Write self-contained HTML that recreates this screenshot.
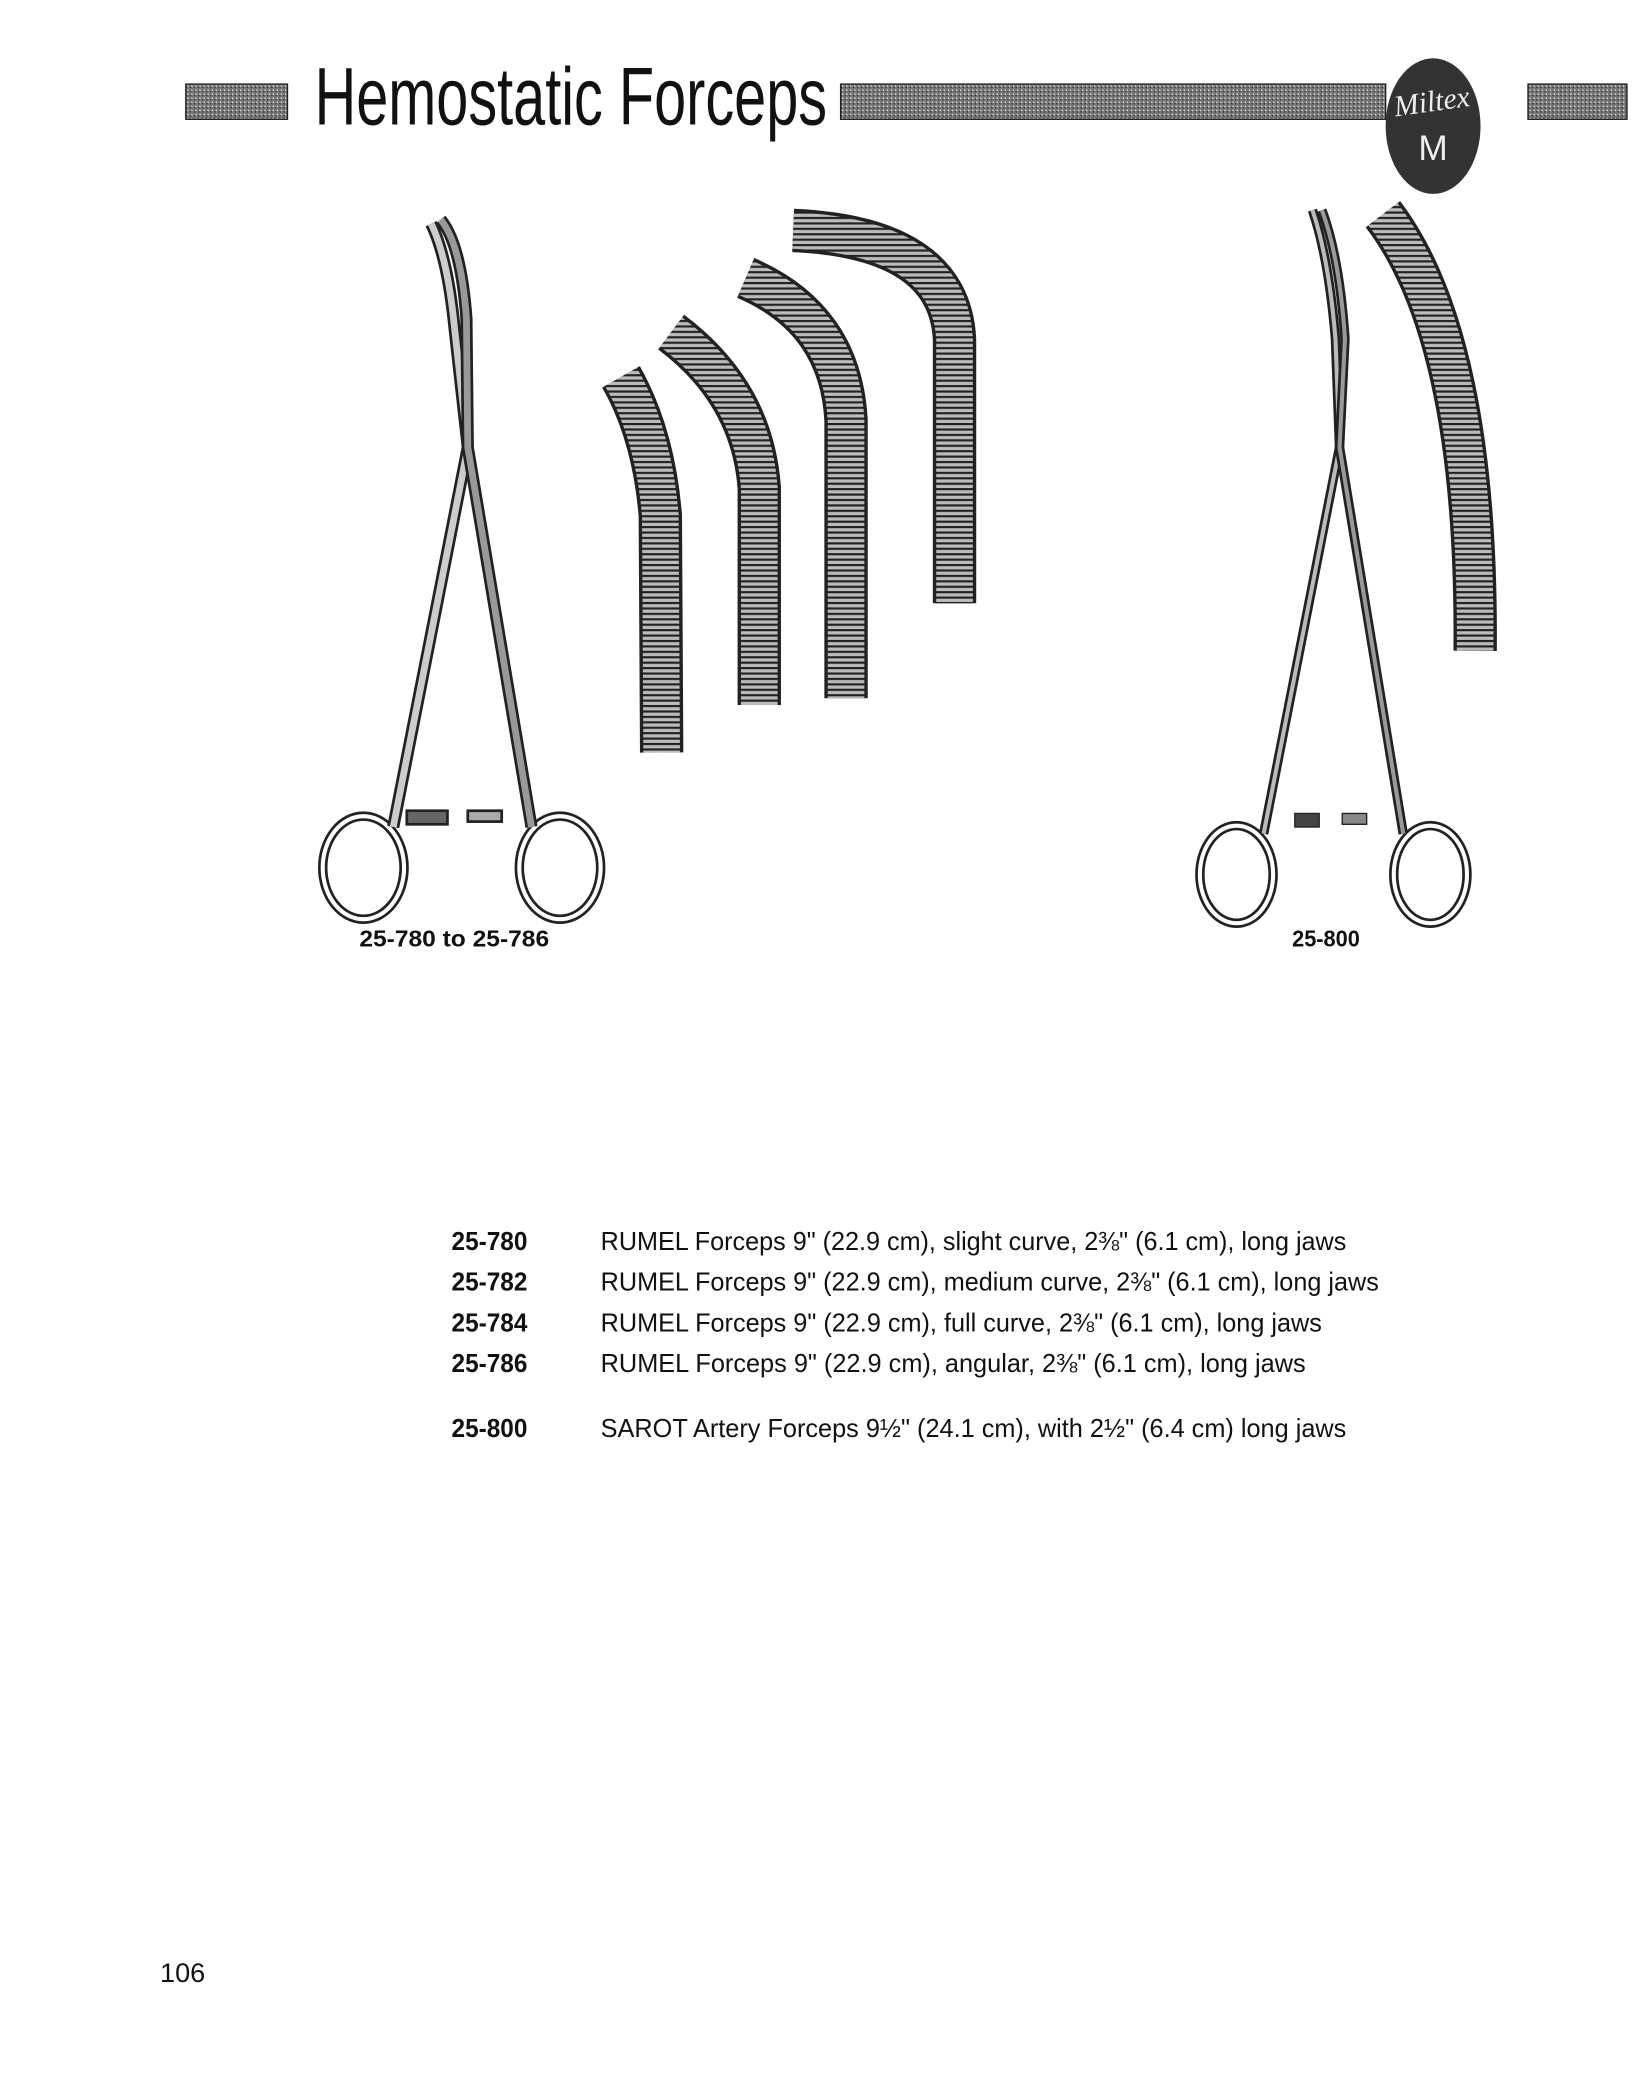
<!DOCTYPE html>
<html><head><meta charset="utf-8"><style>
html,body{margin:0;padding:0;background:#fff}
svg{display:block}
</style></head><body>
<svg width="1646" height="2096" viewBox="0 0 1214 1546" xmlns="http://www.w3.org/2000/svg">
<defs>
<pattern id="dots" width="3" height="3" patternUnits="userSpaceOnUse">
<rect width="3" height="3" fill="#777"/><rect width="1" height="1" fill="#ddd"/><rect x="2" y="1" width="1" height="1" fill="#333"/>
</pattern>
<pattern id="ser" width="4" height="4" patternUnits="userSpaceOnUse">
<rect width="4" height="4" fill="#bbb"/><rect width="4" height="1.6" fill="#222"/>
</pattern>
</defs>
<rect x="137" y="62" width="75" height="26" fill="url(#dots)" stroke="#222"/>
<text x="232" y="92" font-family="'Liberation Sans Narrow','Liberation Sans',sans-serif" font-size="60" textLength="378" lengthAdjust="spacingAndGlyphs" fill="#111">Hemostatic Forceps</text>
<rect x="620" y="62" width="402" height="26" fill="url(#dots)" stroke="#222"/>
<rect x="1127" y="62" width="73" height="26" fill="url(#dots)" stroke="#222"/>
<ellipse cx="1057" cy="93" rx="35" ry="50" fill="#333"/>
<text x="1057" y="82" text-anchor="middle" font-family="'Liberation Serif',serif" font-style="italic" font-size="22" fill="#eee" transform="rotate(-8 1057 82)">Miltex</text>
<text x="1057" y="118" text-anchor="middle" font-family="'Liberation Sans',sans-serif" font-size="26" fill="#eee">M</text>

<g fill="none" stroke="#222" stroke-width="2">
<ellipse cx="268" cy="640" rx="30" ry="38" stroke-width="7"/>
<ellipse cx="268" cy="640" rx="30" ry="38" stroke="#fff" stroke-width="3"/>
<ellipse cx="413" cy="640" rx="30" ry="38" stroke-width="7"/>
<ellipse cx="413" cy="640" rx="30" ry="38" stroke="#fff" stroke-width="3"/>
<path d="M290 610 L345 330 L335 240 Q330 190 318 165" stroke-width="9"/>
<path d="M290 610 L345 330 L335 240 Q330 190 318 165" stroke="#ccc" stroke-width="5"/>
<path d="M392 610 L345 330 L344 235 Q340 180 325 162" stroke-width="9"/>
<path d="M392 610 L345 330 L344 235 Q340 180 325 162" stroke="#999" stroke-width="5"/>
<rect x="300" y="598" width="30" height="10" fill="#666"/>
<rect x="345" y="598" width="25" height="8" fill="#aaa"/>
</g>
<g fill="none" stroke-linecap="butt">
<path d="M458 278 Q482 320 487 380 L488 555" stroke="#222" stroke-width="32"/>
<path d="M458 278 Q482 320 487 380 L488 555" stroke="url(#ser)" stroke-width="27"/>
<path d="M495 245 Q555 290 560 360 L560 520" stroke="#222" stroke-width="32"/>
<path d="M495 245 Q555 290 560 360 L560 520" stroke="url(#ser)" stroke-width="27"/>
<path d="M550 205 Q620 235 624 310 L624 515" stroke="#222" stroke-width="32"/>
<path d="M550 205 Q620 235 624 310 L624 515" stroke="url(#ser)" stroke-width="27"/>
<path d="M585 170 Q700 175 704 250 L704 445" stroke="#222" stroke-width="32"/>
<path d="M585 170 Q700 175 704 250 L704 445" stroke="url(#ser)" stroke-width="27"/>
</g>
<g fill="none" stroke="#222">
<ellipse cx="912" cy="645" rx="27" ry="36" stroke-width="7"/>
<ellipse cx="912" cy="645" rx="27" ry="36" stroke="#fff" stroke-width="3"/>
<ellipse cx="1055" cy="645" rx="27" ry="36" stroke-width="7"/>
<ellipse cx="1055" cy="645" rx="27" ry="36" stroke="#fff" stroke-width="3"/>
<path d="M932 615 L988 330 L985 250 Q980 190 968 155" stroke-width="7"/>
<path d="M932 615 L988 330 L985 250 Q980 190 968 155" stroke="#bbb" stroke-width="3"/>
<path d="M1035 615 L988 330 L992 250 Q988 190 975 155" stroke-width="7"/>
<path d="M1035 615 L988 330 L992 250 Q988 190 975 155" stroke="#999" stroke-width="3"/>
<rect x="955" y="600" width="18" height="10" fill="#444"/>
<rect x="990" y="600" width="18" height="8" fill="#888"/>
<path d="M1020 158 Q1090 250 1088 480" stroke="#222" stroke-width="32"/>
<path d="M1020 158 Q1090 250 1088 480" stroke="url(#ser)" stroke-width="27"/>
</g>
<g font-family="'Liberation Sans Narrow','Liberation Sans',sans-serif" font-weight="bold" fill="#111" font-size="17">
<text x="265" y="698" textLength="140" lengthAdjust="spacingAndGlyphs">25-780 to 25-786</text>
<text x="953" y="698" textLength="50" lengthAdjust="spacingAndGlyphs">25-800</text>
</g>
<g font-family="'Liberation Sans Narrow','Liberation Sans',sans-serif" font-size="19" fill="#111">
<g font-weight="bold">
<text x="333" y="922" textLength="56" lengthAdjust="spacingAndGlyphs">25-780</text>
<text x="333" y="952" textLength="56" lengthAdjust="spacingAndGlyphs">25-782</text>
<text x="333" y="982" textLength="56" lengthAdjust="spacingAndGlyphs">25-784</text>
<text x="333" y="1012" textLength="56" lengthAdjust="spacingAndGlyphs">25-786</text>
<text x="333" y="1060" textLength="56" lengthAdjust="spacingAndGlyphs">25-800</text>
</g>
<text x="443" y="922" textLength="550" lengthAdjust="spacingAndGlyphs">RUMEL Forceps 9" (22.9 cm), slight curve, 2⅜" (6.1 cm), long jaws</text>
<text x="443" y="952" textLength="574" lengthAdjust="spacingAndGlyphs">RUMEL Forceps 9" (22.9 cm), medium curve, 2⅜" (6.1 cm), long jaws</text>
<text x="443" y="982" textLength="532" lengthAdjust="spacingAndGlyphs">RUMEL Forceps 9" (22.9 cm), full curve, 2⅜" (6.1 cm), long jaws</text>
<text x="443" y="1012" textLength="520" lengthAdjust="spacingAndGlyphs">RUMEL Forceps 9" (22.9 cm), angular, 2⅜" (6.1 cm), long jaws</text>
<text x="443" y="1060" textLength="550" lengthAdjust="spacingAndGlyphs">SAROT Artery Forceps 9½" (24.1 cm), with 2½" (6.4 cm) long jaws</text>
</g>
<text x="118" y="1462" font-family="'Liberation Sans',sans-serif" font-size="20" fill="#111">106</text>
</svg>
</body></html>
